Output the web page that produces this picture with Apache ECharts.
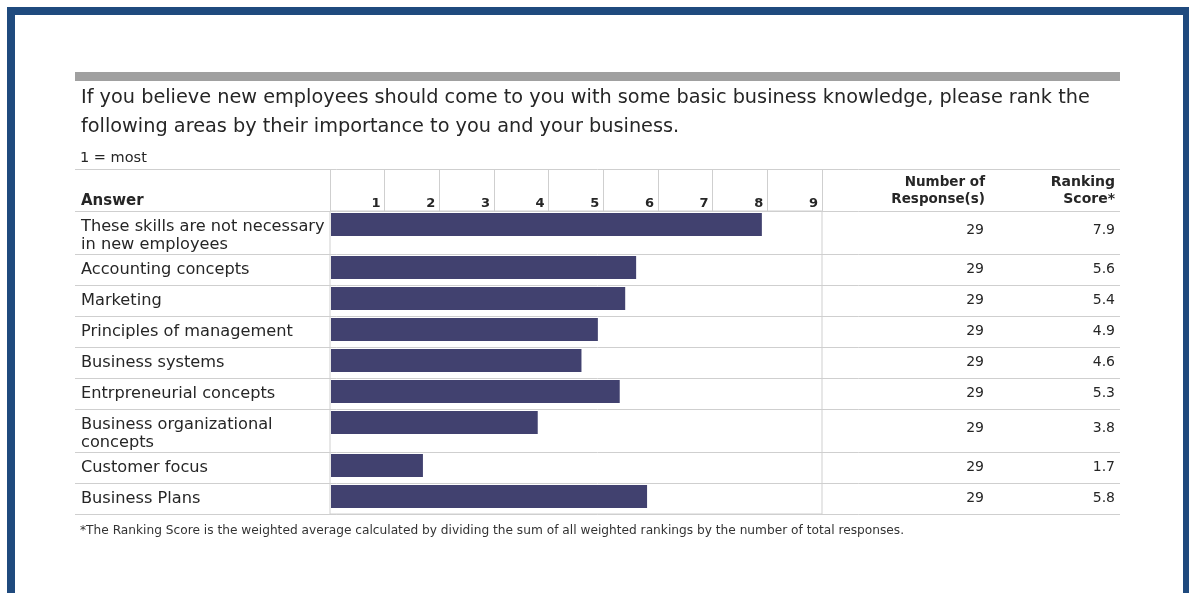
<!DOCTYPE html>
<html>
<head>
<meta charset="utf-8">
<script src="https://cdn.jsdelivr.net/npm/echarts@6/dist/echarts.min.js"></script>
<style>
html,body{margin:0;padding:0;background:#fff;}
#chart{width:1189px;height:593px;}
</style>
</head>
<body>
<div id="chart"></div>
<script>
// ---------- data ----------
const categories = [
  'These skills are not necessary\nin new employees',
  'Accounting concepts',
  'Marketing',
  'Principles of management',
  'Business systems',
  'Entrpreneurial concepts',
  'Business organizational\nconcepts',
  'Customer focus',
  'Business Plans'
];
const rankingScores = [7.9, 5.6, 5.4, 4.9, 4.6, 5.3, 3.8, 1.7, 5.8];
const responseCounts = [29, 29, 29, 29, 29, 29, 29, 29, 29];
const rankMin = 0;
const rankMax = 9;

const titleLines = 'If you believe new employees should come to you with some basic business knowledge, please rank the\nfollowing areas by their importance to you and your business.';
const subTitle = '1 = most';
const headerAnswer = 'Answer';
const headerResponses = 'Number of\nResponse(s)';
const headerScore = 'Ranking\nScore*';
const footnote = '*The Ranking Score is the weighted average calculated by dividing the sum of all weighted rankings by the number of total responses.';

// ---------- layout (styles) ----------
const ROW_SINGLE = 31, ROW_EXTRA = 12;
const rowHeights = categories.map(c => ROW_SINGLE + ROW_EXTRA * (c.split('\n').length - 1));
const rowStart = [];
let acc = 0;
rowHeights.forEach(h => { rowStart.push(acc); acc += h; });
const totalH = acc;

const TABLE_L = 75, TABLE_R = 1120;
const BAR_COLOR = '#41416f';
const LINE_COLOR = '#cfcfcf';
const TXT = '#262626';
const FONT = '"DejaVu Sans", Verdana, sans-serif';

const chart = echarts.init(document.getElementById('chart'));

const option = {
  animation: false,
  backgroundColor: '#fff',
  grid: {
    left: 330, top: 211, width: 492, height: totalH,
    show: true, borderColor: LINE_COLOR, borderWidth: 1, backgroundColor: 'transparent'
  },
  xAxis: {
    type: 'value', position: 'top', min: rankMin, max: rankMax, interval: 1,
    axisLine: { show: false },
    splitLine: { show: false },
    axisTick: { show: true, inside: false, length: 41, lineStyle: { color: LINE_COLOR } },
    axisLabel: {
      formatter: v => (v === 0 ? '' : String(v)),
      align: 'right', margin: 1, padding: [0, 4, 0, 0],
      fontWeight: 'bold', fontSize: 13, color: TXT, fontFamily: FONT
    }
  },
  yAxis: {
    type: 'value', inverse: true, min: 0, max: totalH, show: false
  },
  graphic: [
    { type: 'rect', shape: { x: 11, y: 11, width: 1176, height: 1000 }, style: { fill: 'none', stroke: '#1f4a7e', lineWidth: 8 }, z: 10 },
    { type: 'rect', shape: { x: TABLE_L, y: 72, width: TABLE_R - TABLE_L, height: 9 }, style: { fill: '#a0a0a0' } },
    { type: 'text', x: 81, y: 83, style: { text: titleLines, font: '19.3px ' + FONT, fill: TXT, lineHeight: 29 } },
    { type: 'text', x: 80, y: 151, style: { text: subTitle, font: '14.5px ' + FONT, fill: TXT } },
    { type: 'line', shape: { x1: TABLE_L, y1: 169.5, x2: TABLE_R, y2: 169.5 }, style: { stroke: LINE_COLOR, lineWidth: 1 } },
    { type: 'text', x: 81, y: 201, style: { text: headerAnswer, font: 'bold 15px ' + FONT, fill: TXT, verticalAlign: 'middle' } },
    { type: 'text', x: 985, y: 191, style: { text: headerResponses, font: 'bold 13.5px ' + FONT, fill: TXT, align: 'right', verticalAlign: 'middle', lineHeight: 17 } },
    { type: 'text', x: 1115, y: 191, style: { text: headerScore, font: 'bold 14px ' + FONT, fill: TXT, align: 'right', verticalAlign: 'middle', lineHeight: 17 } },
    { type: 'text', x: 80, y: 531, style: { text: footnote, font: '12.2px ' + FONT, fill: '#333', verticalAlign: 'middle' } }
  ],
  series: [{
    type: 'custom',
    coordinateSystem: 'cartesian2d',
    clip: false,
    encode: { x: 0, y: 1 },
    data: rankingScores.map((s, i) => [s, rowStart[i], rowStart[i] + rowHeights[i]]),
    renderItem: function (params, api) {
      const i = params.dataIndex;
      const s = api.value(0), y0 = api.value(1), y1 = api.value(2);
      const p0 = api.coord([rankMin, y0]);
      const p1 = api.coord([s, y0]);
      const pe = api.coord([rankMin, y1]);
      const multi = categories[i].indexOf('\n') >= 0;
      const mid = (p0[1] + pe[1]) / 2;
      const numY = multi ? mid - 2 : mid;
      const lblY = multi ? mid + 3 : mid;
      const children = [
        { type: 'rect', shape: { x: p0[0] + 1, y: p0[1] + 2, width: p1[0] - p0[0] - 1, height: 23 }, style: { fill: BAR_COLOR } },
        { type: 'line', shape: { x1: TABLE_L, y1: Math.round(pe[1]) + 0.5, x2: TABLE_R, y2: Math.round(pe[1]) + 0.5 }, style: { stroke: LINE_COLOR, lineWidth: 1 } },
        { type: 'text', x: 81, y: lblY, style: { text: categories[i], font: '16.2px ' + FONT, fill: TXT, verticalAlign: 'middle', lineHeight: 18 } },
        { type: 'text', x: 984, y: numY, style: { text: String(responseCounts[i]), font: '14px ' + FONT, fill: TXT, align: 'right', verticalAlign: 'middle' } },
        { type: 'text', x: 1115, y: numY, style: { text: s.toFixed(1), font: '14px ' + FONT, fill: TXT, align: 'right', verticalAlign: 'middle' } }
      ];
      if (i === 0) {
        children.push({ type: 'line', shape: { x1: TABLE_L, y1: Math.round(p0[1]) + 0.5, x2: TABLE_R, y2: Math.round(p0[1]) + 0.5 }, style: { stroke: LINE_COLOR, lineWidth: 1 } });
      }
      return { type: 'group', children: children };
    }
  }]
};
chart.setOption(option);
</script>
</body>
</html>
